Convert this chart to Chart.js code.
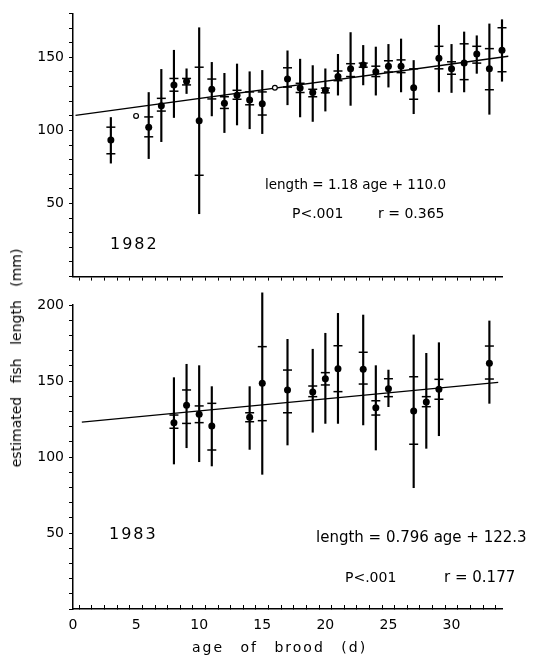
<!DOCTYPE html>
<html><head><meta charset="utf-8">
<script src="https://cdn.jsdelivr.net/npm/chart.js@4/dist/chart.umd.min.js"></script>
<style>
body{margin:0;background:#fff;width:538px;height:659px;position:relative;overflow:hidden;font-family:"DejaVu Sans",sans-serif;color:#000}
canvas{position:absolute;left:0}
#c1{top:0}
#c2{top:283px}
.t{position:absolute;white-space:pre;line-height:1;font-size:14px;transform:translateY(-50%)}
</style></head><body>
<canvas id="c1" width="538" height="290"></canvas>
<canvas id="c2" width="538" height="376"></canvas>

<div class="t" style="left:265px;top:185px;font-size:13.5px">length = 1.18 age + 110.0</div>
<div class="t" style="left:292px;top:213px">P&lt;.001</div>
<div class="t" style="left:378px;top:213px">r = 0.365</div>
<div class="t" style="left:110px;top:244px;font-size:16px;letter-spacing:2px">1982</div>

<div class="t" style="left:316px;top:537px;font-size:15px">length = 0.796 age + 122.3</div>
<div class="t" style="left:345px;top:577px">P&lt;.001</div>
<div class="t" style="left:444px;top:577px;font-size:15px">r = 0.177</div>
<div class="t" style="left:109px;top:534px;font-size:16px;letter-spacing:2px">1983</div>

<div class="t" style="left:192px;top:647px;letter-spacing:2px;word-spacing:10px">age of brood (d)</div>
<div id="ytitle" style="position:absolute;left:16px;top:358px;white-space:pre;font-size:14px;line-height:1;word-spacing:9px;transform:translate(-50%,-50%) rotate(-90deg)">estimated fish length (mm)</div>

<script>
// ---- 1982 panel ----
const age82   = [3,6,7,8,9,10,11,12,13,14,15,17,18,19,20,21,22,23,24,25,26,27,29,30,31,32,33,34];
const mean82  = [93.4,102.2,116.9,131.1,133.6,106.6,128.1,118.6,124.1,120.8,118.2,135.1,128.9,125.9,127.4,136.8,142.1,144.7,140.1,143.9,143.9,129.2,149.3,142.1,146.0,152.2,142.1,154.8];
const hi82    = [108.8,125.9,141.7,154.8,142.1,170.2,146.5,139.0,145.4,140.1,141.0,154.4,148.7,144.3,142.1,152.0,166.9,158.1,157.0,158.8,162.5,147.8,171.9,158.8,167.3,164.7,172.8,175.7];
const lo82    = [77.6,80.7,92.3,108.8,125.2,43.0,109.9,98.5,103.7,101.1,97.8,117.5,109.2,106.1,113.2,124.1,117.1,131.1,124.1,129.6,126.3,111.4,126.3,125.9,126.3,139.0,111.0,133.6];
const sdHi82  = [102.2,109.2,121.9,135.5,135.5,143.2,135.1,123.0,127.4,126.3,126.3,142.8,132.2,128.1,128.9,140.6,145.6,146.0,143.9,147.6,148.2,142.1,157.5,146.9,159.2,157.5,155.9,170.2];
const sdLo82  = [84.0,95.6,113.2,126.8,131.1,69.3,121.5,115.0,121.3,117.5,110.5,129.6,125.9,123.0,125.7,134.0,136.8,143.2,136.8,139.9,139.5,121.3,142.1,138.4,134.7,146.0,127.8,140.1];
const openAge82  = [5,16];
const openMean82 = [109.9,129.2];
const fitX82 = [0.2,34.5];
const fitY82 = [110.2,150.7];

// ---- 1983 panel ----
const age83   = [8,9,10,11,14,15,17,19,20,21,23,24,25,27,28,29,33];
const mean83  = [122.6,134.0,128.1,120.4,126.1,148.5,144.1,142.8,151.5,158.1,157.7,132.4,144.9,130.3,136.2,144.5,161.6];
const hi83    = [152.2,161.0,160.1,146.3,146.3,208.0,177.4,170.9,181.4,194.5,193.4,160.1,157.2,180.3,168.2,175.2,189.5];
const lo83    = [95.4,106.1,96.9,94.1,105.0,88.6,107.9,116.3,122.1,122.1,121.1,104.6,133.1,79.8,105.7,114.0,135.3];
const sdHi83  = [127.6,144.1,133.6,135.3,129.1,172.6,157.2,146.7,155.5,173.2,168.9,137.0,151.5,152.8,139.7,151.1,173.0];
const sdLo83  = [118.9,122.1,122.6,104.6,123.2,123.9,129.1,139.7,147.4,143.0,148.0,127.6,139.7,108.4,133.1,138.0,151.3];
const fitX83 = [0.7,33.7];
const fitY83 = [122.9,149.1];

const xTickLabels = [0,5,10,15,20,25,30];
const yTickLabels82 = [50,100,150];
const yTickLabels83 = [50,100,150,200];

const FONT = '"DejaVu Sans", sans-serif';
const BLACK = '#000';

function pts(xs, ys){ return xs.map((x,i)=>({x:x, y:ys[i]})); }

function datasets(age, mean, lo, hi, sdLo, sdHi, oAge, oMean, fx, fy){
  const ds = [
    {type:'line', data:pts(fx,fy), borderColor:BLACK, borderWidth:1.3, pointRadius:0, fill:false, clip:false, order:5},
    {type:'bar', data:age.map((x,i)=>({x:x, y:[lo[i],hi[i]]})), backgroundColor:BLACK, borderWidth:0,
      barThickness:1.5, grouped:false, clip:false, order:4},
    {type:'scatter', data:pts(age,sdLo).concat(pts(age,sdHi)), pointStyle:'line', pointRadius:4.5,
      borderColor:BLACK, borderWidth:1.5, clip:false, order:3},
    {type:'scatter', data:pts(age,mean), pointStyle:'circle', pointRadius:3.5, backgroundColor:BLACK,
      borderColor:BLACK, borderWidth:0, clip:false, order:2}
  ];
  if (oAge.length) ds.push({type:'scatter', data:pts(oAge,oMean), pointStyle:'circle', pointRadius:2.4,
      backgroundColor:'#fff', borderColor:BLACK, borderWidth:1.2, clip:false, order:1});
  return ds;
}

function options(ymax, yLabels, showX, xh, padTop, xTickLen, xPad){
  return {
    responsive:false, animation:false, devicePixelRatio:1,
    layout:{padding:{top:padTop, right:36, left:0, bottom:0}},
    plugins:{legend:{display:false}, tooltip:{enabled:false}},
    scales:{
      x:{type:'linear', min:0, max:34, offset:false,
        border:{display:true, color:BLACK, width:1.5},
        grid:{drawOnChartArea:false, drawTicks:true, tickLength:xTickLen, color:BLACK, lineWidth:1},
        ticks:{stepSize:1, autoSkip:false, maxRotation:0, minRotation:0, padding:xPad, color:BLACK,
          font:{family:FONT, size:14},
          callback:(v)=> (showX && xTickLabels.includes(v)) ? String(v) : ''},
        afterFit:(s)=>{ s.height = xh; }
      },
      y:{type:'linear', min:0, max:ymax,
        border:{display:true, color:BLACK, width:1.5},
        grid:{drawOnChartArea:false, drawTicks:true, tickLength:4, color:BLACK, lineWidth:1},
        ticks:{stepSize:10, autoSkip:false, padding:5, color:BLACK, font:{family:FONT, size:14},
          callback:(v)=> yLabels.includes(v) ? String(v) : ''},
        afterFit:(s)=>{ s.width = 73; }
      }
    }
  };
}

new Chart(document.getElementById('c1'), {
  type:'scatter',
  data:{datasets:datasets(age82, mean82, lo82, hi82, sdLo82, sdHi82, openAge82, openMean82, fitX82, fitY82)},
  options:options(180, yTickLabels82, false, 8, 7, 4, 4)
});
new Chart(document.getElementById('c2'), {
  type:'scatter',
  data:{datasets:datasets(age83, mean83, lo83, hi83, sdLo83, sdHi83, [], [], fitX83, fitY83)},
  options:options(200, yTickLabels83, true, 50, 22, -4, 12)
});
</script>
</body></html>
